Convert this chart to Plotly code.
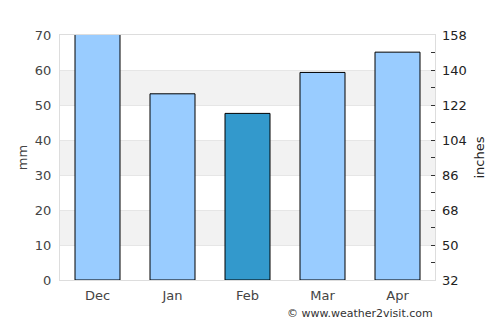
import plotly.graph_objects as go

months = ["Dec", "Jan", "Feb", "Mar", "Apr"]
rain_mm = [71, 53.2, 47.6, 59.3, 65.1]
bar_colors = ["#99ccff", "#99ccff", "#3399cc", "#99ccff", "#99ccff"]
left_ticks = [0, 10, 20, 30, 40, 50, 60, 70]
right_ticks = [32, 50, 68, 86, 104, 122, 140, 158]

fig = go.Figure()
fig.add_trace(go.Bar(
    x=months, y=rain_mm, width=0.6,
    marker=dict(color=bar_colors, line=dict(color="#000000", width=1)),
    hoverinfo="skip", showlegend=False,
))
fig.add_trace(go.Scatter(
    x=months, y=[None] * len(months), yaxis="y2",
    mode="markers", showlegend=False, hoverinfo="skip",
))

# alternating background bands
shapes = []
for i in range(len(left_ticks) - 1):
    if i % 2 == 1:
        shapes.append(dict(
            type="rect", xref="paper", yref="y", x0=0, x1=1,
            y0=left_ticks[i], y1=left_ticks[i + 1],
            fillcolor="#f2f2f2", line=dict(width=0), layer="below",
        ))

font_family = "DejaVu Sans"
tick_color = "#444444"

fig.update_layout(
    width=500, height=325,
    margin=dict(l=60, r=65, t=35, b=45),
    paper_bgcolor="#ffffff", plot_bgcolor="#ffffff",
    font=dict(family=font_family, size=13, color=tick_color),
    shapes=shapes,
    bargap=0.4,
    xaxis=dict(
        showgrid=False, showline=True, linecolor="#dddddd", linewidth=1,
        mirror=True, ticks="", tickfont=dict(size=13, color=tick_color),
        ticklabelstandoff=3, fixedrange=True,
    ),
    yaxis=dict(
        range=[0, 70], tickvals=left_ticks, showgrid=True,
        gridcolor="#e6e6e6", gridwidth=1, zeroline=False,
        showline=True, linecolor="#dddddd", linewidth=1, mirror=True,
        ticks="", tickfont=dict(size=13, color=tick_color),
        ticklabelstandoff=5,
        title=dict(text="mm", font=dict(size=13, color=tick_color), standoff=4),
    ),
    yaxis2=dict(
        range=[32, 158], tickvals=right_ticks, overlaying="y", side="right",
        showgrid=False, zeroline=False, showline=False,
        ticks="inside", ticklen=4, tickcolor="#333333", tickwidth=1,
        minor=dict(dtick=9, tick0=32, ticks="inside", ticklen=4,
                   tickcolor="#333333", showgrid=False),
        tickfont=dict(size=13, color="#222222"),
        ticklabelstandoff=6,
        title=dict(text="inches", font=dict(size=13, color="#222222"), standoff=9),
    ),
    annotations=[dict(
        text="© www.weather2visit.com", xref="paper", yref="paper",
        x=1, y=-0.135, xanchor="right", yanchor="middle", showarrow=False,
        font=dict(size=11, color="#333333"),
    )],
)

fig.write_html("out.html")
